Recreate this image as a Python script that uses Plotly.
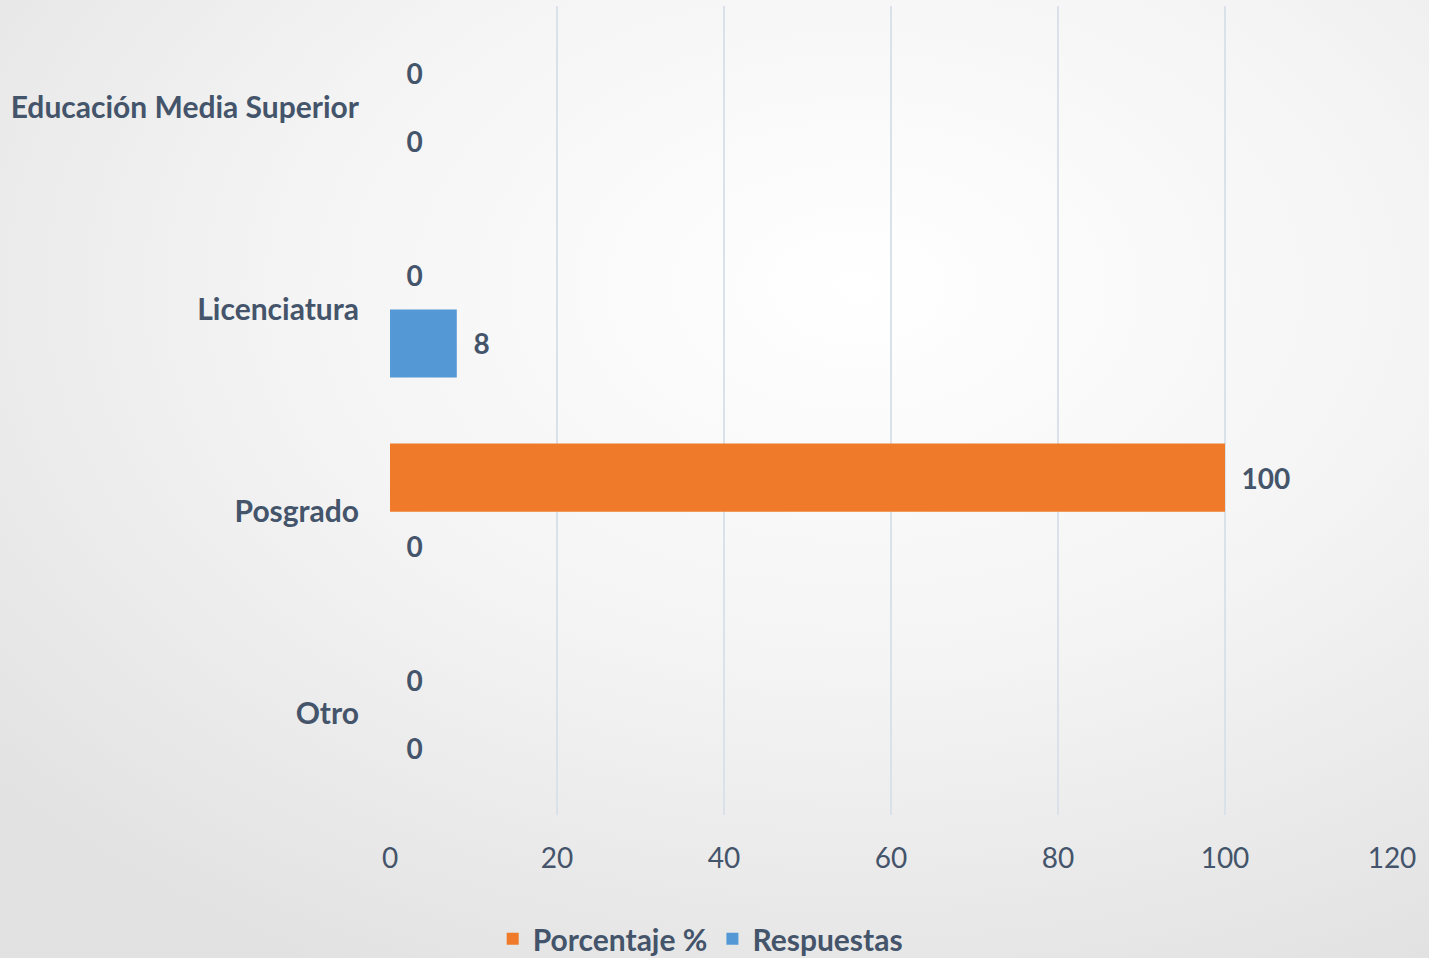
import base64
import plotly.graph_objects as go

categories = ["Educación Media Superior", "Licenciatura", "Posgrado", "Otro"]
porcentaje = [0, 0, 100, 0]
respuestas = [0, 8, 0, 0]
series_names = ["Porcentaje %", "Respuestas"]
x_ticks = [0, 20, 40, 60, 80, 100, 120]

W, H = 1429, 958
L, R, T, B = 390, 37, 6, 143
TXT = "#44546A"
FONT = "Lato"

svg = f'''<svg xmlns="http://www.w3.org/2000/svg" width="{W}" height="{H}">
<defs><radialGradient id="g" cx="0.6" cy="0.3" r="0.8" fx="0.6" fy="0.3">
<stop offset="0" stop-color="#ffffff"/><stop offset="0.5" stop-color="#f4f4f4"/>
<stop offset="1" stop-color="#e2e2e2"/></radialGradient></defs>
<rect width="{W}" height="{H}" fill="url(#g)"/></svg>'''
bg_uri = "data:image/svg+xml;base64," + base64.b64encode(svg.encode()).decode()

pw, ph = W - L - R, H - T - B

fig = go.Figure()
fig.add_trace(go.Bar(
    y=categories, x=porcentaje, orientation="h", name=series_names[0],
    marker=dict(color="#EF7B2A", line=dict(width=0)),
    text=porcentaje, texttemplate="\u00a0\u00a0%{x}", textposition="outside",
    textfont=dict(family=FONT, size=28, color=TXT, weight="bold"),
    cliponaxis=False,
))
fig.add_trace(go.Bar(
    y=categories, x=respuestas, orientation="h", name=series_names[1],
    marker=dict(color="#5598D6", line=dict(width=0)),
    text=respuestas, texttemplate="\u00a0\u00a0%{x}", textposition="outside",
    textfont=dict(family=FONT, size=28, color=TXT, weight="bold"),
    cliponaxis=False,
))

fig.update_layout(
    width=W, height=H,
    margin=dict(l=L, r=R, t=T, b=B),
    paper_bgcolor="#ececec",
    plot_bgcolor="rgba(0,0,0,0)",
    barmode="group", bargap=0.327, bargroupgap=0,
    images=[dict(source=bg_uri, xref="paper", yref="paper",
                 x=-L / pw, y=1 + T / ph, sizex=W / pw, sizey=H / ph,
                 sizing="stretch", xanchor="left", yanchor="top", layer="below")],
    xaxis=dict(range=[0, 120], tickvals=x_ticks, showgrid=True, gridcolor="#dbe1e8",
               gridwidth=1.5, zeroline=False, showline=False, ticks="",
               ticklabelstandoff=24,
               tickfont=dict(family=FONT, size=28, color=TXT)),
    yaxis=dict(autorange="reversed", showgrid=False, zeroline=False, showline=False,
               ticks="", ticklabelstandoff=30,
               tickfont=dict(family=FONT, size=30, color=TXT, weight="bold")),
    legend=dict(orientation="h", xref="container", yref="container",
                x=0.49, xanchor="center", y=0.02, yanchor="middle",
                bgcolor="rgba(0,0,0,0)",
                font=dict(family=FONT, size=30, color=TXT, weight="bold"),
                traceorder="normal", itemwidth=30),
    showlegend=True,
)

fig.write_html(
    "out.html",
    config={"displayModeBar": False},
    post_script="document.body.style.margin='0';document.body.style.background='#ececec';",
)
